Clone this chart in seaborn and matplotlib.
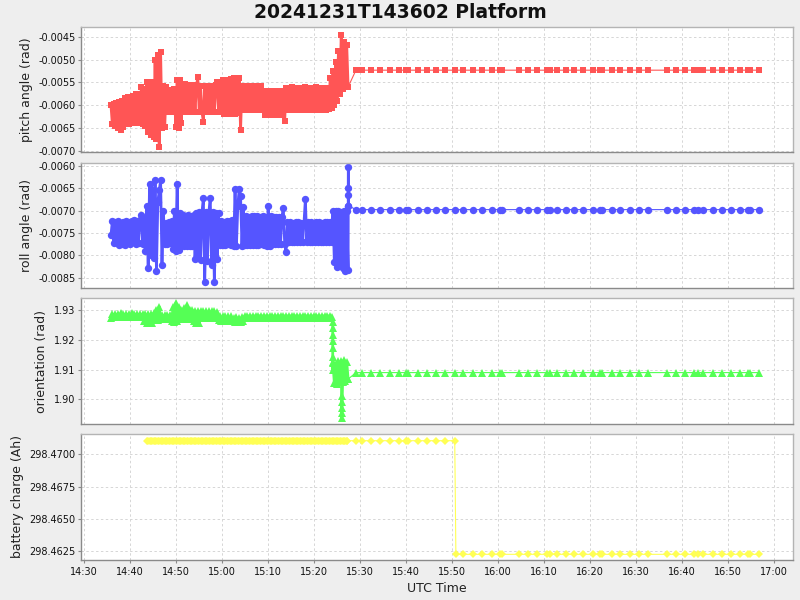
import numpy as np
import pandas as pd
import matplotlib
matplotlib.use("Agg")
import matplotlib.pyplot as plt
import matplotlib.dates as mdates
from matplotlib.ticker import FixedLocator, FormatStrFormatter
import seaborn as sns

# ---------------- data (minutes after 14:30 UTC, 2024-12-31) ----------------
base_time = pd.Timestamp("2024-12-31 14:30:00")
title_text = "20241231T143602 Platform"

dense_first_minute = 5.8      # first sample of pitch/roll/orientation
dense_step_minute = 0.3       # sampling step of the dense block
battery_first_minute = 13.6
battery_dense_count = 146
dense_end_minute = 58.0       # samples before this belong to the dense block

# pitch angle, dense block, units of 1e-5 rad
pitch_dense_e5 = [
    -600, -642, -597, -645, -595, -650, -592, -655, -590, -648,
    -585, -640, -583, -642, -582, -638, -580, -640, -576, -638,
    -575, -640, -560, -642, -565, -645, -550, -660, -552, -665,
    -548, -670, -500, -675, -490, -693, -483, -650, -558, -648,
    -560, -615, -566, -615, -566, -614, -565, -648, -544, -650,
    -545, -640, -555, -615, -553, -615, -555, -614, -556, -615,
    -555, -615, -556, -539, -615, -558, -615, -636, -558, -615,
    -558, -614, -558, -615, -557, -615, -555, -548, -615, -550,
    -616, -545, -620, -546, -620, -545, -619, -542, -620, -540,
    -620, -540, -618, -541, -655, -558, -610, -558, -610, -557,
    -610, -558, -610, -558, -611, -557, -610, -558, -610, -558,
    -610, -569, -622, -569, -620, -569, -622, -568, -621, -569,
    -622, -569, -620, -569, -622, -568, -634, -562, -611, -562,
    -611, -561, -610, -562, -611, -562, -611, -562, -610, -562,
    -611, -561, -611, -562, -610, -562, -611, -562, -611, -561,
    -610, -562, -611, -562, -610, -562, -611, -562, -608, -540,
    -606, -525, -600, -505, -590, -480, -575, -446, -565, -460,
    -560, -468, -560]

# roll angle, dense block, units of 1e-5 rad
roll_dense_e5 = [
    -755, -724, -772, -726, -770, -724, -776, -727, -774, -725,
    -777, -724, -771, -726, -775, -724, -770, -722, -774, -723,
    -773, -722, -710, -775, -720, -790, -690, -827, -640, -800,
    -655, -805, -632, -834, -680, -655, -632, -822, -700, -774,
    -727, -775, -726, -773, -724, -785, -700, -790, -640, -788,
    -705, -780, -710, -778, -712, -780, -710, -779, -712, -780,
    -710, -808, -705, -805, -703, -810, -705, -672, -860, -703,
    -812, -704, -672, -822, -703, -860, -705, -808, -706, -777,
    -724, -776, -725, -777, -724, -775, -724, -777, -722, -778,
    -652, -778, -690, -652, -668, -779, -692, -777, -712, -776,
    -714, -777, -712, -777, -713, -776, -712, -777, -714, -775,
    -712, -777, -714, -780, -690, -780, -712, -774, -714, -775,
    -714, -774, -715, -774, -714, -695, -775, -792, -726, -770,
    -726, -771, -727, -770, -726, -771, -726, -770, -727, -771,
    -727, -675, -770, -726, -771, -726, -770, -727, -771, -726,
    -770, -726, -771, -727, -770, -726, -771, -726, -770, -726,
    -771, -700, -815, -702, -825, -700, -822, -703, -828, -701,
    -835, -702, -833]
roll_extra_minutes = [57.45, 57.45, 57.45, 57.45]
roll_extra_e5 = [-604, -650, -665, -689]

# orientation, dense block, units of 1e-4 rad
orient_dense_e4 = [
    19275, 19287, 19277, 19288, 19276, 19288, 19277, 19289, 19276, 19288,
    19277, 19288, 19276, 19288, 19277, 19289, 19276, 19288, 19277, 19288,
    19276, 19288, 19277, 19287, 19265, 19287, 19256, 19286, 19258, 19287,
    19256, 19290, 19268, 19300, 19268, 19312, 19270, 19284, 19270, 19284,
    19271, 19284, 19270, 19284, 19265, 19310, 19260, 19324, 19262, 19312,
    19270, 19300, 19270, 19308, 19272, 19316, 19273, 19301, 19272, 19301,
    19265, 19298, 19256, 19298, 19256, 19298, 19273, 19296, 19273, 19296,
    19273, 19296, 19273, 19296, 19274, 19296, 19273, 19295, 19266, 19279,
    19265, 19279, 19266, 19279, 19265, 19279, 19266, 19279, 19265, 19275,
    19260, 19276, 19262, 19275, 19260, 19276, 19264, 19282, 19273, 19282,
    19273, 19282, 19273, 19282, 19273, 19282, 19273, 19282, 19273, 19282,
    19273, 19282, 19273, 19282, 19273, 19282, 19273, 19282, 19273, 19282,
    19273, 19282, 19273, 19282, 19273, 19282, 19273, 19282, 19273, 19282,
    19273, 19282, 19273, 19282, 19273, 19282, 19273, 19282, 19273, 19282,
    19273, 19282, 19273, 19282, 19273, 19282, 19273, 19282, 19273, 19282,
    19273, 19282, 19273, 19282, 19273, 19282, 19273, 19282, 19273, 19282,
    19276, 19125, 19055, 19120, 19050, 19128, 19060, 19130, 19058, 19133,
    19062, 19125, 19068]
orient_extra_minutes = [54.05] * 8 + [56.0] * 5
orient_extra_e4 = [19260, 19240, 19217, 19195, 19172, 19144, 19122, 19099,
                   19010, 18992, 18970, 18953, 18936]

# sparse samples after 15:29
sparse_minutes = [59.1, 60.5, 62.4, 64.4, 66.5, 68.5, 69.9, 70.5, 72.5, 74.6,
                  76.6, 78.5, 80.6, 82.5, 84.6, 86.6, 88.6, 90.4, 90.9, 94.6,
                  96.6, 98.6, 100.6, 101.3, 102.8, 104.7, 106.6, 108.6, 110.7,
                  112.2, 112.7, 114.8, 116.6, 118.8, 120.8, 122.7, 126.8, 128.8,
                  130.8, 132.7, 133.5, 134.7, 136.8, 138.8, 140.8, 142.7, 144.3,
                  144.8, 146.9]
pitch_sparse_value = -0.00523
roll_sparse_value = -0.00698
orient_sparse_value = 1.909

battery_high = 298.47106
battery_low = 298.46224
battery_sparse_minutes = sparse_minutes[:13] + [80.85] + sparse_minutes[13:]
battery_sparse_values = [battery_high] * 13 + [battery_low] * (len(sparse_minutes) - 12)

# axis settings
pitch_ticks = [-0.0070, -0.0065, -0.0060, -0.0055, -0.0050, -0.0045]
roll_ticks = [-0.0085, -0.0080, -0.0075, -0.0070, -0.0065, -0.0060]
orient_ticks = [1.90, 1.91, 1.92, 1.93]
battery_ticks = [298.4625, 298.4650, 298.4675, 298.4700]


def series(dense_vals, scale, first, extra_min, extra_vals, sparse_min, sparse_vals):
    dmin = [first + dense_step_minute * k for k in range(len(dense_vals))]
    mins = dmin + list(extra_min) + list(sparse_min)
    vals = [v * scale for v in dense_vals] + [v * scale for v in extra_vals] + list(sparse_vals)
    df = pd.DataFrame({"m": mins, "v": vals})
    df = df.sort_values("m", kind="mergesort").reset_index(drop=True)
    df["t"] = base_time + pd.to_timedelta(df["m"], unit="min")
    return df


pitch_df = series(pitch_dense_e5, 1e-5, dense_first_minute, [], [],
                  sparse_minutes, [pitch_sparse_value] * len(sparse_minutes))
roll_df = series(roll_dense_e5, 1e-5, dense_first_minute, roll_extra_minutes,
                 roll_extra_e5, sparse_minutes, [roll_sparse_value] * len(sparse_minutes))
orient_df = series(orient_dense_e4, 1e-4, dense_first_minute, orient_extra_minutes,
                   orient_extra_e4, sparse_minutes, [orient_sparse_value] * len(sparse_minutes))
battery_df = series([battery_high] * battery_dense_count, 1.0, battery_first_minute, [], [],
                    battery_sparse_minutes, battery_sparse_values)

# ---------------- drawing ----------------
sns.set_style("white")
plt.rcParams["font.family"] = ["DejaVu Sans"]

fig = plt.figure(figsize=(8, 6), dpi=100, facecolor="#eeeeee")
W, H = 800.0, 600.0
left, right = 81, 793
panels = [(27, 152), (162.5, 287.7), (298.3, 424), (434, 560)]
axes = []
for i, (top, bot) in enumerate(panels):
    rect = [left / W, 1 - bot / H, (right - left) / W, (bot - top) / H]
    ax = fig.add_axes(rect, sharex=axes[0] if axes else None)
    axes.append(ax)

specs = [
    (pitch_df, "#ff5555", "s", 5.0, "pitch angle (rad)", pitch_ticks, (-0.00703, -0.00428), "%.4f"),
    (roll_df, "#5555ff", "o", 5.3, "roll angle (rad)", roll_ticks, (-0.00872, -0.00593), "%.4f"),
    (orient_df, "#55ff55", "^", 5.6, "orientation (rad)", orient_ticks, (1.8917, 1.934), "%.2f"),
    (battery_df, "#ffff55", "D", 3.6, "battery charge (Ah)", battery_ticks, (298.4618, 298.47158), "%.4f"),
]

for ax, (df, col, mk, ms, lab, ticks, ylim, fmt) in zip(axes, specs):
    ax.set_facecolor("white")
    n_dense = int((df["m"] < dense_end_minute).sum())
    dense_part = df.iloc[:n_dense]
    sparse_part = df.iloc[n_dense - 1:]
    common = dict(x="t", y="v", ax=ax, color=col, marker=mk, markersize=ms,
                  markeredgewidth=0, sort=False, estimator=None, errorbar=None)
    sns.lineplot(data=sparse_part, linewidth=0.8, **common)
    sns.lineplot(data=dense_part, linewidth=2.0, **common)
    ax.set_ylim(*ylim)
    ax.yaxis.set_major_locator(FixedLocator(ticks))
    ax.yaxis.set_major_formatter(FormatStrFormatter(fmt))
    ax.set_ylabel(lab, fontsize=9, color="#222222", labelpad=4)
    ax.set_xlabel("")
    ax.grid(True, color="#d6d6d6", linestyle=(0, (2.5, 2.5)), linewidth=0.7)
    ax.set_axisbelow(True)
    for s in ax.spines.values():
        s.set_color("#b4b4b4")
        s.set_linewidth(1.0)
    ax.spines["left"].set_color("#8a8a8a")
    ax.spines["bottom"].set_color("#8a8a8a")
    ax.tick_params(axis="y", direction="out", length=2, width=0.8, color="#8a8a8a",
                   labelsize=7, pad=2, labelcolor="#111111", left=True)
    ax.tick_params(axis="x", bottom=False, labelbottom=False)

axes[0].set_xlim(base_time + pd.Timedelta(minutes=-0.72), base_time + pd.Timedelta(minutes=154.2))
axb = axes[-1]
axb.xaxis.set_major_locator(mdates.MinuteLocator(byminute=[0, 10, 20, 30, 40, 50]))
axb.xaxis.set_major_formatter(mdates.DateFormatter("%H:%M"))
axb.tick_params(axis="x", bottom=True, labelbottom=True, direction="out", length=2,
                width=0.8, color="#8a8a8a", labelsize=7, pad=3, labelcolor="#111111")
axb.set_xlabel("UTC Time", fontsize=9, color="#222222", labelpad=4)

fig.text(0.5, 1 - 12.5 / H, title_text, ha="center", va="center",
         fontsize=13.5, fontweight="bold", color="#111111")

fig.savefig("out.png", dpi=100, facecolor=fig.get_facecolor())
